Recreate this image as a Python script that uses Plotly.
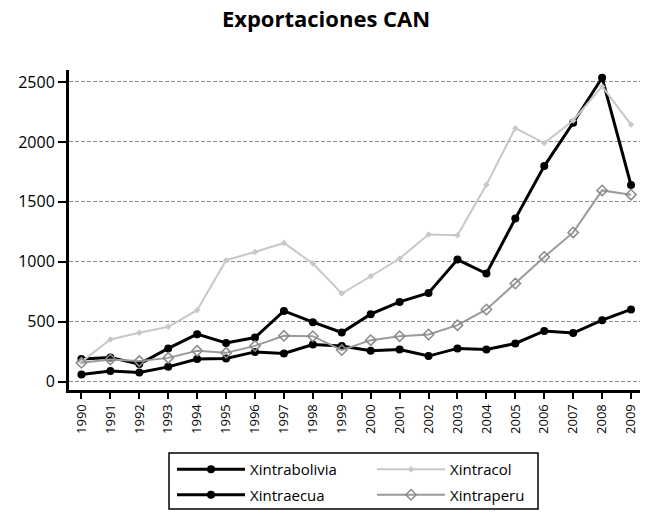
import plotly.graph_objects as go

years = list(range(1990, 2010))
year_labels = [str(y) for y in years]

xintrabolivia = [60, 88, 77, 123, 188, 193, 248, 235, 310, 298, 257, 268, 213, 277, 268, 318, 423, 405, 513, 602]
xintraecua = [188, 202, 146, 277, 396, 323, 368, 590, 496, 410, 563, 665, 740, 1018, 902, 1360, 1798, 2160, 2535, 1640]
xintracol = [165, 352, 407, 457, 596, 1013, 1082, 1157, 985, 735, 879, 1027, 1227, 1221, 1643, 2115, 1990, 2179, 2463, 2145]
xintraperu = [157, 185, 171, 198, 257, 240, 298, 382, 379, 263, 346, 379, 393, 471, 602, 818, 1040, 1245, 1595, 1560]

y_ticks = [0, 500, 1000, 1500, 2000, 2500]

W, H = 656, 522

fig = go.Figure()

fig.add_trace(go.Scatter(
    x=years, y=xintrabolivia, name="Xintrabolivia", mode="lines+markers",
    line=dict(color="#000000", width=3), marker=dict(symbol="circle", size=8, color="#000000"),
    legend="legend", legendgroup="a"))
fig.add_trace(go.Scatter(
    x=years, y=xintraecua, name="Xintraecua", mode="lines+markers",
    line=dict(color="#000000", width=3), marker=dict(symbol="circle", size=8, color="#000000"),
    legend="legend", legendgroup="b"))
fig.add_trace(go.Scatter(
    x=years, y=xintracol, name="Xintracol", mode="lines+markers",
    line=dict(color="#c8c8c8", width=2), marker=dict(symbol="diamond", size=5, color="#c8c8c8"),
    legend="legend2", legendgroup="c"))
fig.add_trace(go.Scatter(
    x=years, y=xintraperu, name="Xintraperu", mode="lines+markers",
    line=dict(color="#9a9a9a", width=2),
    marker=dict(symbol="diamond-open", size=8, color="#8a8a8a", line=dict(width=1.5)),
    legend="legend2", legendgroup="d"))

legend_common = dict(
    orientation="v", xref="container", yref="container", xanchor="left", yanchor="top",
    font=dict(family="Open Sans", size=15, color="#000000"),
    bgcolor="rgba(0,0,0,0)", borderwidth=0, itemwidth=68, tracegroupgap=3,
)

fig.update_layout(
    width=W, height=H,
    paper_bgcolor="#ffffff", plot_bgcolor="#ffffff",
    margin=dict(l=69, r=16, t=70, b=132, autoexpand=False),
    title=dict(text="<b>Exportaciones CAN</b>", x=326 / W, xref="container", xanchor="center",
               y=1 - 19.5 / H, yref="container", yanchor="middle",
               font=dict(family="Open Sans", size=22, color="#000000")),
    showlegend=True,
    legend=dict(x=172 / W, y=1 - 453 / H, **legend_common),
    legend2=dict(x=372 / W, y=1 - 453 / H, **legend_common),
    xaxis=dict(
        range=[1989.57, 2009.31], tickmode="array", tickvals=years, ticktext=year_labels,
        tickangle=-90, ticks="outside", ticklen=6, tickwidth=2, tickcolor="#000000",
        showline=True, linewidth=3, linecolor="#000000", showgrid=False, zeroline=False,
        tickfont=dict(family="Open Sans", size=13, color="#000000"), automargin=False,
    ),
    yaxis=dict(
        range=[-70, 2600], tickmode="array", tickvals=y_ticks,
        ticks="outside", ticklen=8, tickwidth=2, tickcolor="#000000",
        showline=True, linewidth=3, linecolor="#000000",
        showgrid=True, gridcolor="#8c8c8c", gridwidth=1, griddash="4px,2px", zeroline=False,
        tickfont=dict(family="Open Sans", size=16, color="#000000"), automargin=False,
    ),
    shapes=[dict(type="rect", xref="paper", yref="paper",
                 x0=(169 - 69) / 571, x1=(538 - 69) / 571,
                 y0=(390 - 509) / 320, y1=(390 - 453) / 320,
                 line=dict(color="#000000", width=1.5), fillcolor="rgba(0,0,0,0)", layer="above")],
)

fig.write_html("out.html", config={"displayModeBar": False},
               post_script="document.body.style.margin='0';")
